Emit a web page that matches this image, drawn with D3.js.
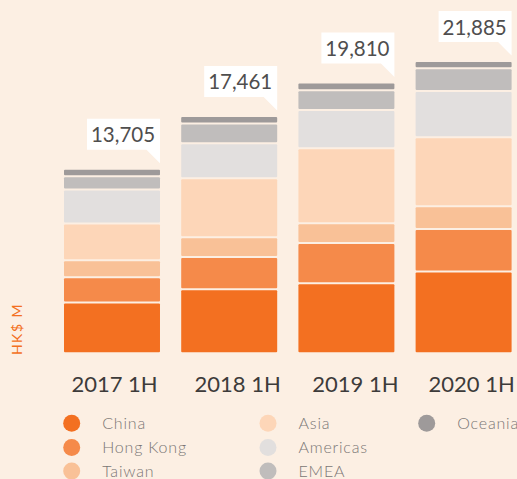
<!DOCTYPE html>
<html lang="en">
<head>
    <meta charset="UTF-8">
    <title>Revenue by region</title>
    <script src="https://cdn.jsdelivr.net/npm/d3@7"></script>
    <style>
        body { margin: 0; background: #fcefe3; }
        svg { display: block; }
    </style>
</head>
<body>
<script>
    // periods and region series (HK$ M)
    const periods = ['2017 1H', '2018 1H', '2019 1H', '2020 1H']
    const totals = [13705, 17461, 19810, 21885]
    const regions = ['China', 'Hong Kong', 'Taiwan', 'Asia', 'Americas', 'EMEA', 'Oceania']
    const china = [3800, 4780, 5220, 6110]
    const hongKong = [1880, 2400, 3010, 3160]
    const taiwan = [1260, 1480, 1480, 1700]
    const asia = [2750, 4410, 5600, 5150]
    const americas = [2530, 2610, 2850, 3460]
    const emea = [1000, 1470, 1470, 1700]
    const oceania = [550, 560, 580, 530]
    const colors = ['#f37021', '#f58a4a', '#f9c197', '#fdd6b8', '#e2dfde', '#c0bdbc', '#9e9a9a']

    const series = [china, hongKong, taiwan, asia, americas, emea, oceania]
    const rows = periods.map((p, i) => {
        const r = { period: p }
        regions.forEach((k, j) => { r[k] = series[j][i] })
        return r
    })

    const [width, height] = [517, 479]
    const base = 353.3
    const x = d3.scaleBand().domain(periods).range([64, 511.6]).paddingInner(0.181)
    const y = d3.scaleLinear().domain([0, 10000]).range([base, base - 134])

    const stack = d3.stack().keys(regions)(rows)

    const svg = d3.select('body').append('svg')
        .attr('width', width)
        .attr('height', height)

    svg.append('rect').attr('width', width).attr('height', height).attr('fill', '#fcefe3')

    // stacked segments, small gap between them
    svg.append('g').selectAll('g').data(stack).enter().append('g')
        .attr('fill', (d, i) => colors[i])
        .selectAll('rect').data(d => d).enter().append('rect')
        .attr('x', d => x(d.data.period))
        .attr('width', x.bandwidth())
        .attr('y', d => y(d[1]) + 1)
        .attr('height', d => Math.max(0, y(d[0]) - y(d[1]) - 2))
        .attr('rx', 1)

    // callout labels with totals
    const topOf = i => y(stack[stack.length - 1][i][1])
    const callouts = svg.append('g').selectAll('g').data(totals).enter().append('g')
        .attr('transform', (d, i) => `translate(${x(periods[i]) + x.bandwidth()},${topOf(i) - 19})`)
    callouts.append('path')
        .attr('d', 'M-73,-31H0V13.5L-13.5,0H-73Z')
        .attr('fill', '#ffffff')
    callouts.append('text')
        .attr('x', -37)
        .attr('y', -7.5)
        .attr('text-anchor', 'middle')
        .attr('font-family', 'Lato, sans-serif')
        .attr('font-size', 20.5)
        .attr('fill', '#4f4e4e')
        .text(d => d3.format(',')(d))

    // x axis labels
    const labelShift = [2.5, 8.5, 9, 8]
    svg.append('g').selectAll('text').data(periods).enter().append('text')
        .attr('x', (d, i) => x(d) + x.bandwidth() / 2 + labelShift[i])
        .attr('y', 391.5)
        .attr('text-anchor', 'middle')
        .attr('font-family', 'Lato, sans-serif')
        .attr('font-size', 22)
        .attr('fill', '#3d3b3a')
        .text(d => d)

    // y title
    svg.append('text')
        .attr('transform', 'translate(22,329) rotate(-90)')
        .attr('text-anchor', 'middle')
        .attr('font-family', 'Lato, sans-serif')
        .attr('font-size', 14)
        .attr('letter-spacing', 1.5)
        .attr('fill', '#f37021')
        .text('HK$ M')

    // legend, 3 columns
    const colX = [71.7, 268, 426.7]
    const rowY = [423.3, 447.5, 471]
    const legend = svg.append('g').selectAll('g').data(regions).enter().append('g')
        .attr('transform', (d, i) => `translate(${colX[Math.floor(i / 3)]},${rowY[i % 3]})`)
    legend.append('circle')
        .attr('r', 8.5)
        .attr('fill', (d, i) => colors[i])
    legend.append('text')
        .attr('x', 30.5)
        .attr('y', 5.5)
        .attr('font-family', 'Lato, sans-serif')
        .attr('font-size', 16)
        .attr('font-weight', 300)
        .attr('letter-spacing', 0.8)
        .attr('fill', '#7a7675')
        .text(d => d)
</script>
</body>
</html>
